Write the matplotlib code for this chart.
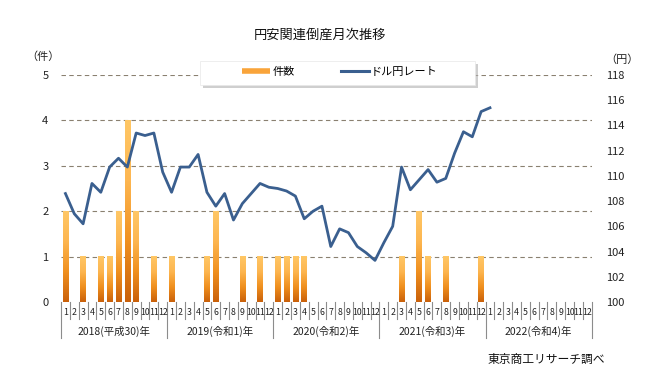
import numpy as np
import matplotlib
matplotlib.use('Agg')
from matplotlib import pyplot as plt
from matplotlib.colors import LinearSegmentedColormap
from matplotlib.lines import Line2D
from matplotlib.patches import Rectangle

plt.rcParams['font.family'] = ['Noto Sans CJK JP', 'DejaVu Sans']

years = ['2018(平成30)年', '2019(令和1)年', '2020(令和2)年', '2021(令和3)年', '2022(令和4)年']
months = [str(m) for m in range(1, 13)]

# 件数 (monthly bankruptcies), Jan 2018 .. Dec 2022
counts = [2, 0, 1, 0, 1, 1, 2, 4, 2, 0, 1, 0,
          1, 0, 0, 0, 1, 2, 0, 0, 1, 0, 1, 0,
          1, 1, 1, 1, 0, 0, 0, 0, 0, 0, 0, 0,
          0, 0, 1, 0, 2, 1, 0, 1, 0, 0, 0, 1,
          0, 0, 0, 0, 0, 0, 0, 0, 0, 0, 0, 0]

# ドル円レート, Jan 2018 .. Jan 2022
rate = [108.6, 107.0, 106.2, 109.4, 108.7, 110.7, 111.4, 110.7, 113.4, 113.2, 113.4, 110.3,
        108.7, 110.7, 110.7, 111.7, 108.7, 107.6, 108.6, 106.5, 107.8, 108.6, 109.4, 109.1,
        109.0, 108.8, 108.4, 106.6, 107.2, 107.6, 104.4, 105.8, 105.5, 104.4, 103.9, 103.3,
        104.7, 106.0, 110.7, 108.9, 109.7, 110.5, 109.5, 109.8, 111.8, 113.5, 113.1, 115.1,
        115.4]

fig = plt.figure(figsize=(6.51, 3.73), dpi=100)
ax = fig.add_axes([61 / 651, 1 - 302 / 373, 530.7 / 651, 227 / 373])
ax2 = ax.twinx()

x = np.arange(len(counts))
bars = ax.bar(x, counts, width=0.62, color='#F7A53C', zorder=2)

# vertical orange gradient on each bar
cmap = LinearSegmentedColormap.from_list('og', ['#C9600A', '#F0901F', '#FDB650', '#FFC766'])
grad = np.linspace(0, 1, 256).reshape(-1, 1)
for b in bars:
    h = b.get_height()
    if h <= 0:
        continue
    b.set_visible(False)
    ax.imshow(grad, cmap=cmap, aspect='auto', origin='lower',
              extent=[b.get_x(), b.get_x() + b.get_width(), 0, h], zorder=2)

ax.set_xlim(-0.5, len(counts) - 0.5)
ax.set_ylim(0, 5)
ax.set_yticks(range(6))
for v in range(1, 6):
    ax.axhline(v, color='#8a8070', lw=0.8, ls=(0, (4, 3)), zorder=1)

ax2.plot(np.arange(len(rate)), rate, color='#3A5F8F', lw=2.0, zorder=3)
ax2.set_ylim(100, 118)
ax2.set_yticks(range(100, 119, 2))

for a in (ax, ax2):
    for s in a.spines.values():
        s.set_visible(False)
    a.tick_params(length=0, labelsize=8, colors='#222222')
ax.tick_params(axis='y', pad=9)
ax2.tick_params(axis='y', pad=10)
ax.set_xticks([])

# multi-level category axis
tr = ax.get_xaxis_transform()
for k in range(len(counts) + 1):
    yb = -0.159 if k % 12 == 0 else -0.075
    ax.plot([k - 0.5, k - 0.5], [0, yb], transform=tr, color='#8c8c8c',
            lw=0.8, clip_on=False)
for i in x:
    ax.text(i, -0.045, months[i % 12], transform=tr, ha='center', va='center',
            fontsize=6.3, color='#222222')
for j, yl in enumerate(years):
    ax.text(j * 12 + 5.5, -0.128, yl, transform=tr, ha='center', va='center',
            fontsize=7.5, color='#222222')

# legend box with shadow
fig.patches.append(Rectangle((203 / 651, 1 - 88 / 373), 275 / 651, 24 / 373,
                             transform=fig.transFigure, facecolor='#b0b0b0',
                             edgecolor='none', alpha=0.6, zorder=5))
fig.patches.append(Rectangle((200 / 651, 1 - 85 / 373), 275 / 651, 24 / 373,
                             transform=fig.transFigure, facecolor='white',
                             edgecolor='#e8e8e8', lw=0.5, zorder=6))
handles = [Line2D([], [], color='#F9A43A', lw=4, solid_capstyle='butt'),
           Line2D([], [], color='#3A5F8F', lw=2.2)]
leg = fig.legend(handles, ['件数', 'ドル円レート'], loc='center',
                 bbox_to_anchor=(340 / 651, 1 - 72 / 373), ncol=2, frameon=False,
                 fontsize=8, handlelength=2.5, handletextpad=0.2, columnspacing=4.2)
leg.set_zorder(7)

fig.text(320 / 651, 1 - 35 / 373, '円安関連倒産月次推移', ha='center', va='center',
         fontsize=9.5, color='#111111')
fig.text(43 / 651, 1 - 57 / 373, '（件）', ha='center', va='center', fontsize=8,
         color='#222222')
fig.text(622 / 651, 1 - 60 / 373, '（円）', ha='center', va='center', fontsize=8,
         color='#222222')
fig.text(605 / 651, 1 - 359 / 373, '東京商工リサーチ調べ', ha='right', va='center',
         fontsize=8.5, color='#111111')

fig.savefig('out.png', dpi=100)
